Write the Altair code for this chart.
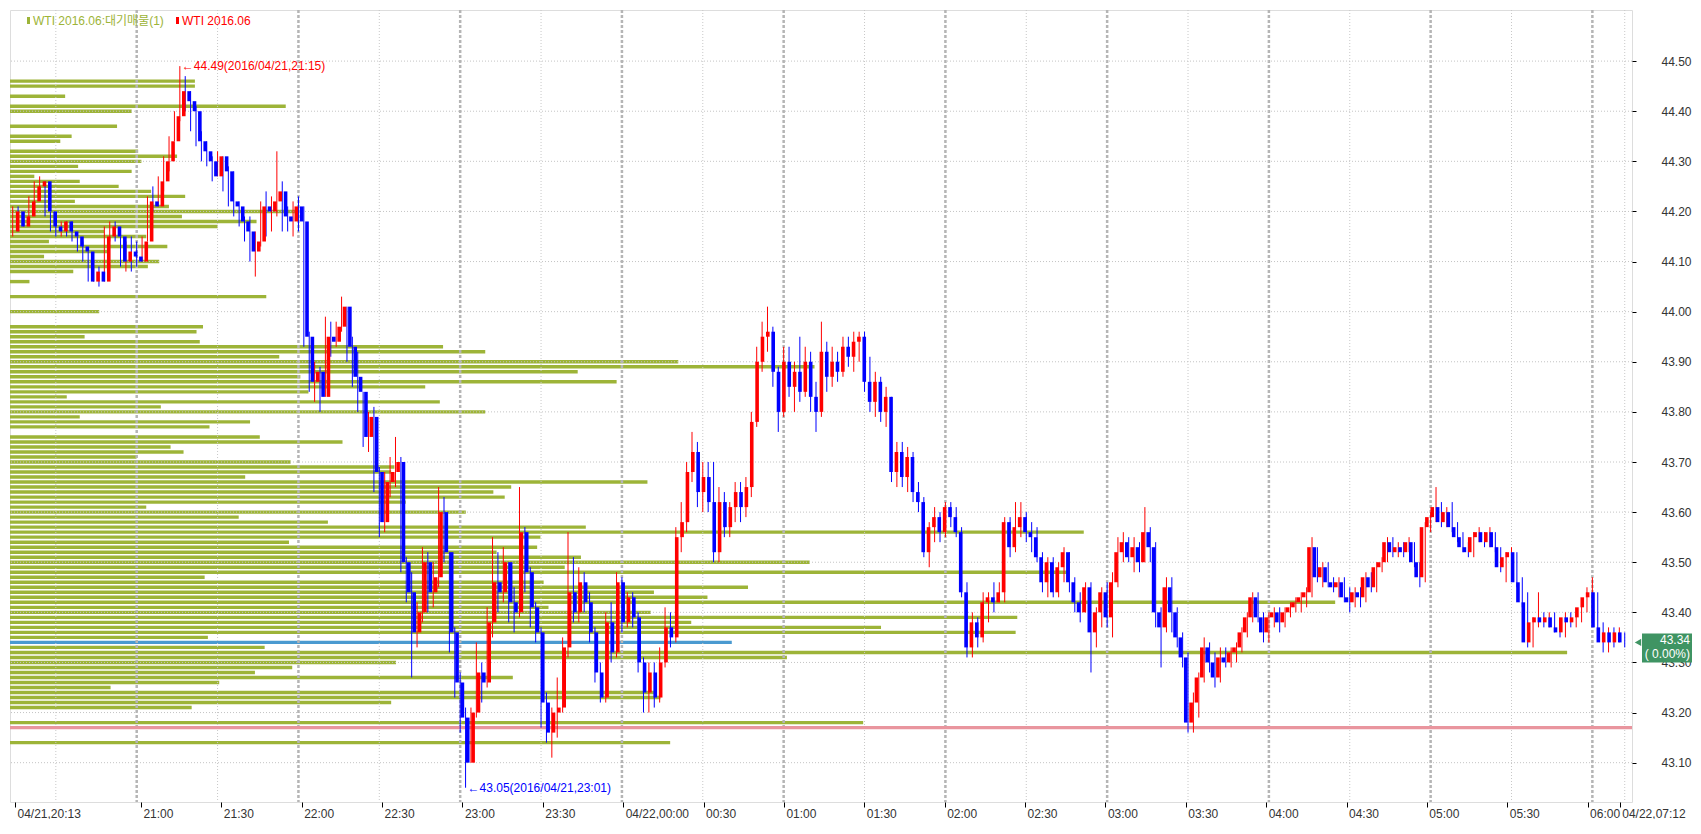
import json
from datetime import datetime, timedelta

import altair as alt
import pandas as pd

# --- WTI 2016.06, 2-minute candles from 04/21 20:13 (one row = 30 minutes)
first_open = 44.16
closes = [
    44.20, 44.17, 44.19, 44.22, 44.25, 44.26, 44.20, 44.17, 44.16, 44.18, 44.16, 44.15, 44.13, 44.12, 44.06,  # 20:13
    44.08, 44.06, 44.15, 44.17, 44.15, 44.10, 44.12, 44.11, 44.10, 44.14, 44.22, 44.21, 44.26, 44.30, 44.34,  # 20:43
    44.39, 44.44, 44.42, 44.40, 44.34, 44.32, 44.30, 44.27, 44.31, 44.28, 44.22, 44.21, 44.18, 44.16, 44.12,  # 21:13
    44.14, 44.21, 44.20, 44.22, 44.24, 44.19, 44.18, 44.21, 44.18, 43.95, 43.86, 43.88, 43.83, 43.95, 43.94,  # 21:43
    43.97, 44.01, 43.93, 43.87, 43.84, 43.75, 43.79, 43.68, 43.58, 43.66, 43.68, 43.70, 43.50, 43.44, 43.36,  # 22:13
    43.40, 43.50, 43.44, 43.47, 43.60, 43.52, 43.36, 43.26, 43.19, 43.10, 43.20, 43.28, 43.26, 43.38, 43.46,  # 22:43
    43.44, 43.50, 43.42, 43.40, 43.56, 43.48, 43.41, 43.36, 43.22, 43.16, 43.20, 43.21, 43.33, 43.44, 43.40,  # 23:13
    43.46, 43.42, 43.36, 43.28, 43.23, 43.38, 43.32, 43.46, 43.38, 43.43, 43.39, 43.30, 43.24, 43.28, 43.23,  # 23:43
    43.30, 43.37, 43.35, 43.55, 43.58, 43.68, 43.72, 43.64, 43.67, 43.62, 43.52, 43.62, 43.57, 43.61, 43.64,  # 00:13
    43.61, 43.65, 43.78, 43.90, 43.95, 43.96, 43.88, 43.80, 43.90, 43.85, 43.88, 43.84, 43.90, 43.83, 43.80,  # 00:43
    43.92, 43.87, 43.90, 43.88, 43.93, 43.91, 43.94, 43.95, 43.86, 43.82, 43.86, 43.80, 43.83, 43.68, 43.72,  # 01:13
    43.67, 43.71, 43.64, 43.62, 43.52, 43.57, 43.59, 43.56, 43.61, 43.59, 43.56, 43.44, 43.33, 43.38, 43.35,  # 01:43
    43.42, 43.43, 43.42, 43.44, 43.58, 43.53, 43.57, 43.59, 43.56, 43.55, 43.51, 43.46, 43.50, 43.44, 43.49,  # 02:13
    43.52, 43.46, 43.42, 43.40, 43.45, 43.36, 43.40, 43.44, 43.39, 43.46, 43.52, 43.54, 43.51, 43.53, 43.50,  # 02:43
    43.56, 43.53, 43.40, 43.37, 43.45, 43.40, 43.35, 43.31, 43.18, 43.22, 43.27, 43.33, 43.30, 43.27, 43.31,  # 03:13
    43.30, 43.32, 43.33, 43.36, 43.39, 43.43, 43.39, 43.36, 43.39, 43.40, 43.38, 43.40, 43.41, 43.42, 43.43,  # 03:43
    43.44, 43.53, 43.47, 43.49, 43.46, 43.45, 43.46, 43.43, 43.42, 43.44, 43.43, 43.47, 43.45, 43.49, 43.50,  # 04:13
    43.54, 43.52, 43.53, 43.52, 43.54, 43.50, 43.47, 43.57, 43.59, 43.61, 43.58, 43.60, 43.57, 43.55, 43.53,  # 04:43
    43.52, 43.55, 43.56, 43.54, 43.56, 43.53, 43.49, 43.51, 43.52, 43.46, 43.42, 43.34, 43.38, 43.39, 43.38,  # 05:13
    43.39, 43.37, 43.36, 43.39, 43.38, 43.39, 43.41, 43.43, 43.44, 43.37, 43.34, 43.36, 43.34, 43.36, 43.34,  # 05:43
]
highs = [
    44.21, 44.21, 44.20, 44.23, 44.26, 44.27, 44.26, 44.19, 44.18, 44.18, 44.18, 44.18, 44.15, 44.14, 44.12,
    44.10, 44.09, 44.17, 44.18, 44.18, 44.15, 44.14, 44.15, 44.14, 44.15, 44.23, 44.25, 44.27, 44.31, 44.35,
    44.40, 44.49, 44.47, 44.44, 44.41, 44.36, 44.34, 44.31, 44.32, 44.31, 44.29, 44.28, 44.22, 44.19, 44.19,
    44.16, 44.22, 44.24, 44.23, 44.32, 44.26, 44.21, 44.22, 44.23, 44.21, 43.96, 43.90, 43.89, 43.99, 43.98,
    43.98, 44.03, 44.01, 43.95, 43.92, 43.84, 43.80, 43.81, 43.69, 43.68, 43.71, 43.75, 43.71, 43.51, 43.48,
    43.42, 43.53, 43.52, 43.50, 43.65, 43.63, 43.52, 43.37, 43.28, 43.21, 43.21, 43.34, 43.30, 43.41, 43.55,
    43.52, 43.53, 43.50, 43.45, 43.65, 43.57, 43.49, 43.42, 43.37, 43.24, 43.21, 43.27, 43.35, 43.56, 43.51,
    43.49, 43.48, 43.44, 43.37, 43.30, 43.40, 43.42, 43.48, 43.47, 43.44, 43.44, 43.40, 43.31, 43.30, 43.30,
    43.33, 43.41, 43.40, 43.57, 43.62, 43.70, 43.76, 43.74, 43.70, 43.70, 43.70, 43.65, 43.64, 43.62, 43.66,
    43.66, 43.67, 43.80, 43.93, 43.98, 44.01, 43.97, 43.89, 43.93, 43.93, 43.90, 43.95, 43.93, 43.92, 43.86,
    43.98, 43.94, 43.93, 43.92, 43.95, 43.95, 43.96, 43.96, 43.96, 43.91, 43.88, 43.87, 43.85, 43.82, 43.74,
    43.74, 43.73, 43.72, 43.66, 43.63, 43.58, 43.61, 43.60, 43.62, 43.62, 43.61, 43.57, 43.46, 43.40, 43.39,
    43.44, 43.44, 43.46, 43.46, 43.59, 43.59, 43.62, 43.62, 43.60, 43.58, 43.57, 43.52, 43.51, 43.51, 43.50,
    43.53, 43.52, 43.47, 43.44, 43.46, 43.46, 43.41, 43.45, 43.46, 43.48, 43.55, 43.56, 43.55, 43.55, 43.54,
    43.61, 43.57, 43.54, 43.41, 43.47, 43.47, 43.41, 43.36, 43.32, 43.24, 43.28, 43.35, 43.34, 43.32, 43.33,
    43.33, 43.33, 43.34, 43.37, 43.40, 43.44, 43.44, 43.40, 43.40, 43.41, 43.41, 43.41, 43.42, 43.43, 43.44,
    43.45, 43.55, 43.53, 43.50, 43.50, 43.47, 43.47, 43.47, 43.45, 43.45, 43.45, 43.48, 43.48, 43.50, 43.51,
    43.55, 43.55, 43.54, 43.54, 43.55, 43.54, 43.50, 43.58, 43.60, 43.65, 43.62, 43.61, 43.62, 43.58, 43.56,
    43.54, 43.56, 43.57, 43.56, 43.57, 43.56, 43.53, 43.52, 43.53, 43.52, 43.47, 43.44, 43.39, 43.44, 43.40,
    43.40, 43.40, 43.38, 43.40, 43.40, 43.40, 43.42, 43.45, 43.47, 43.44, 43.38, 43.37, 43.37, 43.37, 43.36,
]
lows = [
    44.15, 44.16, 44.17, 44.18, 44.20, 44.23, 44.19, 44.16, 44.15, 44.15, 44.15, 44.14, 44.12, 44.10, 44.06,
    44.06, 44.05, 44.07, 44.14, 44.14, 44.09, 44.08, 44.08, 44.09, 44.10, 44.14, 44.20, 44.21, 44.24, 44.28,
    44.34, 44.38, 44.40, 44.36, 44.33, 44.30, 44.29, 44.26, 44.27, 44.24, 44.21, 44.19, 44.17, 44.14, 44.10,
    44.07, 44.13, 44.15, 44.16, 44.19, 44.16, 44.16, 44.15, 44.16, 43.93, 43.84, 43.82, 43.80, 43.83, 43.91,
    43.93, 43.96, 43.90, 43.85, 43.80, 43.73, 43.72, 43.64, 43.55, 43.56, 43.63, 43.65, 43.48, 43.42, 43.27,
    43.33, 43.38, 43.40, 43.41, 43.45, 43.50, 43.32, 43.23, 43.16, 43.05, 43.10, 43.19, 43.22, 43.25, 43.35,
    43.40, 43.42, 43.38, 43.36, 43.39, 43.44, 43.37, 43.34, 43.17, 43.14, 43.11, 43.15, 43.20, 43.31, 43.38,
    43.38, 43.40, 43.34, 43.26, 43.22, 43.22, 43.30, 43.31, 43.36, 43.37, 43.37, 43.28, 43.20, 43.20, 43.21,
    43.22, 43.29, 43.33, 43.34, 43.52, 43.56, 43.66, 43.61, 43.60, 43.60, 43.50, 43.50, 43.55, 43.55, 43.58,
    43.58, 43.59, 43.63, 43.77, 43.88, 43.92, 43.85, 43.76, 43.79, 43.83, 43.80, 43.82, 43.83, 43.80, 43.76,
    43.79, 43.84, 43.85, 43.86, 43.87, 43.89, 43.88, 43.90, 43.84, 43.80, 43.79, 43.78, 43.77, 43.66, 43.65,
    43.65, 43.64, 43.62, 43.60, 43.51, 43.49, 43.54, 43.54, 43.55, 43.57, 43.55, 43.43, 43.31, 43.31, 43.33,
    43.34, 43.38, 43.40, 43.42, 43.42, 43.51, 43.52, 43.55, 43.54, 43.52, 43.50, 43.44, 43.43, 43.43, 43.43,
    43.46, 43.44, 43.40, 43.38, 43.40, 43.28, 43.33, 43.37, 43.37, 43.35, 43.45, 43.50, 43.50, 43.48, 43.48,
    43.50, 43.50, 43.37, 43.29, 43.36, 43.36, 43.33, 43.29, 43.16, 43.16, 43.19, 43.26, 43.28, 43.25, 43.26,
    43.29, 43.29, 43.30, 43.32, 43.35, 43.38, 43.38, 43.34, 43.34, 43.37, 43.36, 43.37, 43.39, 43.40, 43.40,
    43.41, 43.43, 43.46, 43.45, 43.45, 43.44, 43.43, 43.42, 43.40, 43.41, 43.41, 43.42, 43.44, 43.44, 43.48,
    43.50, 43.51, 43.51, 43.51, 43.52, 43.49, 43.45, 43.46, 43.56, 43.58, 43.57, 43.57, 43.56, 43.54, 43.52,
    43.51, 43.51, 43.54, 43.53, 43.53, 43.52, 43.48, 43.46, 43.50, 43.45, 43.41, 43.33, 43.33, 43.37, 43.37,
    43.37, 43.36, 43.35, 43.35, 43.37, 43.37, 43.38, 43.40, 43.38, 43.36, 43.32, 43.32, 43.33, 43.34, 43.33,
]

# --- 대기매물 (volume at price), one bar per cent
profile_price = [
    44.46, 44.45, 44.43, 44.41, 44.40, 44.37, 44.35, 44.34, 44.32, 44.31,
    44.30, 44.29, 44.28, 44.27, 44.26, 44.25, 44.24, 44.23, 44.22, 44.21,
    44.20, 44.19, 44.18, 44.17, 44.16, 44.15, 44.14, 44.13, 44.12, 44.11,
    44.10, 44.09, 44.08, 44.06, 44.03, 44.00, 43.97, 43.96, 43.95, 43.94,
    43.93, 43.92, 43.91, 43.90, 43.89, 43.88, 43.87, 43.86, 43.85, 43.84,
    43.83, 43.82, 43.81, 43.80, 43.79, 43.78, 43.77, 43.75, 43.74, 43.73,
    43.72, 43.71, 43.70, 43.69, 43.68, 43.67, 43.66, 43.65, 43.64, 43.63,
    43.62, 43.61, 43.60, 43.59, 43.58, 43.57, 43.56, 43.55, 43.54, 43.53,
    43.52, 43.51, 43.50, 43.49, 43.48, 43.47, 43.46, 43.45, 43.44, 43.43,
    43.42, 43.41, 43.40, 43.39, 43.38, 43.37, 43.36, 43.35, 43.34, 43.33,
    43.32, 43.31, 43.30, 43.29, 43.28, 43.27, 43.26, 43.25, 43.24, 43.23,
    43.22, 43.21, 43.18, 43.14,
]
profile_volume = [
    114, 114, 34, 170, 75, 66, 38, 31, 79, 103,
    81, 42, 75, 15, 43, 67, 87, 108, 40, 98,
    178, 106, 152, 128, 58, 84, 24, 97, 61, 21,
    92, 85, 39, 12, 158, 55, 119, 115, 46, 117,
    267, 293, 166, 412, 496, 350, 179, 374, 256, 184,
    35, 265, 93, 293, 43, 148, 123, 154, 205, 99,
    107, 78, 173, 237, 235, 145, 393, 309, 298, 305,
    244, 84, 281, 141, 196, 355, 662, 327, 172, 325,
    300, 352, 493, 342, 653, 120, 329, 455, 397, 430,
    817, 332, 395, 621, 420, 537, 620, 122, 445, 157,
    960, 479, 238, 174, 151, 310, 129, 62, 397, 401,
    235, 112, 526, 407,
]
ref_line = [43.17]
change_pct = "( 0.00%)"

price_ticks = [43.1, 43.2, 43.3, 43.4, 43.5, 43.6, 43.7, 43.8, 43.9, 44.0, 44.1, 44.2, 44.3, 44.4, 44.5]
# minutes from 04/21 21:00
time_ticks = [-47, 0, 30, 60, 90, 120, 150, 180, 210, 240, 270, 300, 330, 360, 390, 420, 450, 480, 510, 540, 552]
time_labels = ["04/21,20:13", "21:00", "21:30", "22:00", "22:30", "23:00", "23:30", "04/22,00:00",
               "00:30", "01:00", "01:30", "02:00", "02:30", "03:00", "03:30", "04:00", "04:30",
               "05:00", "05:30", "06:00", "04/22,07:12"]
grid_hour = [0, 60, 120, 180, 240, 300, 360, 420, 480, 540]
grid_half = [-30, 30, 90, 150, 210, 270, 330, 390, 450, 510, 552]

W, H = 1622, 792
FONT = "Liberation Sans"
OLIVE = "#9db438"
UP, DOWN = "#ff0000", "#0000ff"
BOX = "#3f9463"

starts = list(range(-47, 553, 2))
df = pd.DataFrame({"start": starts, "close": closes, "high": highs, "low": lows})
df["open"] = [first_open] + closes[:-1]
df["high"] = df[["high", "open", "close"]].max(axis=1)
df["low"] = df[["low", "open", "close"]].min(axis=1)
df["t"] = df["start"] + 1
df["dir"] = ["up" if c >= o else "down" for o, c in zip(df["open"], df["close"])]

xs = alt.Scale(domain=[-47, 554.7], nice=False, zero=False)
ys = alt.Scale(domain=[43.0315, 44.592], nice=False, zero=False)

y_axis = alt.Axis(orient="right", values=price_ticks, format=".2f", title=None, grid=False,
                  domain=False, tickSize=4, tickColor="#000", labelAlign="right",
                  labelPadding=55, labelFont=FONT, labelFontSize=12, labelColor="#333",
                  labelFlush=False, labelOverlap=False)
x_axis = alt.Axis(values=time_ticks, title=None, grid=False, domain=False, tickSize=5,
                  tickColor="#000", labelAlign="left", labelBaseline="top", labelPadding=1,
                  labelOffset=2, labelFlush=False, labelOverlap=False, labelFont=FONT,
                  labelFontSize=12, labelColor="#333",
                  labelExpr=f"{json.dumps(time_labels)}[indexof({json.dumps(time_ticks)}, datum.value)]")

def tx(axis=None):
    return alt.X("t:Q", scale=xs, axis=axis)

def py(field="price"):
    return alt.Y(f"{field}:Q", scale=ys, axis=y_axis)

# volume profile
pdf = pd.DataFrame({"price": profile_price, "vol": profile_volume})
pdf["kind"] = ["current" if p == closes[-1] else "normal" for p in profile_price]
profile = alt.Chart(pdf).mark_bar(orient="horizontal", size=3.4).encode(
    x=alt.X("vol:Q", scale=alt.Scale(domain=[0, 1000], nice=False), axis=None),
    y=py(),
    color=alt.condition(alt.datum.kind == "current", alt.value("#4a9ad0"), alt.value(OLIVE)),
)

# grid
hgrid = alt.Chart(pd.DataFrame({"price": price_ticks})).mark_rule(
    color="#c4c4c4", strokeDash=[1, 2]).encode(y=py())
vhalf = alt.Chart(pd.DataFrame({"t": grid_half})).mark_rule(
    color="#c8c8c8", strokeDash=[1, 2]).encode(x=tx())
vhour = alt.Chart(pd.DataFrame({"t": grid_hour})).mark_rule(
    color="#b5b5b5", strokeWidth=2.5, strokeDash=[3, 2]).encode(x=tx())
pink = alt.Chart(pd.DataFrame({"price": ref_line})).mark_rule(
    color="#e9959e", strokeWidth=3.4).encode(y=py())

# candles
dir_color = alt.Color("dir:N", scale=alt.Scale(domain=["up", "down"], range=[UP, DOWN]), legend=None)
wicks = alt.Chart(df).mark_rule(strokeWidth=1).encode(
    x=tx(), y=py("low"), y2="high:Q", color=dir_color)
bodies = alt.Chart(df).mark_bar(size=3.6).encode(
    x=tx(x_axis), y=py("open"), y2="close:Q", color=dir_color)

# high / low notes
base = datetime(2016, 4, 21, 21, 0)
i_hi = highs.index(max(highs))
i_lo = lows.index(min(lows))
def note(i, val):
    stamp = (base + timedelta(minutes=starts[i])).strftime("%Y/%m/%d,%H:%M")
    return pd.DataFrame({"t": [starts[i] + 1], "price": [val], "label": [f"←{val:.2f}({stamp})"]})
hi_note = alt.Chart(note(i_hi, max(highs))).mark_text(
    align="left", baseline="middle", dx=2, font=FONT, fontSize=12, color=UP).encode(
    x=tx(), y=py(), text="label:N")
lo_note = alt.Chart(note(i_lo, min(lows))).mark_text(
    align="left", baseline="middle", dx=2, font=FONT, fontSize=12, color=DOWN).encode(
    x=tx(), y=py(), text="label:N")

# legend at top-left
one = pd.DataFrame({"a": [0]})
leg = [
    alt.Chart(one).mark_rect(color=OLIVE).encode(
        x=alt.value(17), x2=alt.value(20), y=alt.value(7), y2=alt.value(14)),
    alt.Chart(one).mark_text(align="left", baseline="middle", font=f"{FONT}, Noto Sans CJK KR",
                             fontSize=12, color=OLIVE, text="WTI 2016.06:대기매물(1)").encode(
        x=alt.value(23), y=alt.value(11)),
    alt.Chart(one).mark_rect(color=UP).encode(
        x=alt.value(166), x2=alt.value(169), y=alt.value(7), y2=alt.value(14)),
    alt.Chart(one).mark_text(align="left", baseline="middle", font=FONT,
                             fontSize=12, color=UP, text="WTI 2016.06").encode(
        x=alt.value(172), y=alt.value(11)),
]

# current price box on the right axis
cur = pd.DataFrame({"price": [closes[-1]], "label": [f"{closes[-1]:.2f}"], "pct": [change_pct]})
tri = alt.Chart(cur).mark_point(shape="triangle-left", filled=True, size=55, color=BOX, opacity=1).encode(
    x=alt.value(W + 6), y=py())
box = alt.Chart(cur).mark_rect(color=BOX, yOffset=-9, y2Offset=20).encode(
    x=alt.value(W + 10), x2=alt.value(W + 60), y=py(), y2="price:Q")
box_t1 = alt.Chart(cur).mark_text(align="right", baseline="middle", dy=-2, font=FONT,
                                  fontSize=12, color="white").encode(
    x=alt.value(W + 58), y=py(), text="label:N")
box_t2 = alt.Chart(cur).mark_text(align="right", baseline="middle", dy=12, font=FONT,
                                  fontSize=12, color="white").encode(
    x=alt.value(W + 58), y=py(), text="pct:N")

chart = alt.layer(
    profile, vhalf, vhour, hgrid, pink, wicks, bodies, hi_note, lo_note, *leg,
    tri, box, box_t1, box_t2,
).resolve_scale(x="independent").properties(
    width=W, height=H, padding={"left": 0, "top": 0, "right": 0, "bottom": 0}
).configure_view(stroke="#000", strokeWidth=1.2).configure(background="white")

chart.save("out.html", embed_options={"renderer": "svg", "actions": False})
